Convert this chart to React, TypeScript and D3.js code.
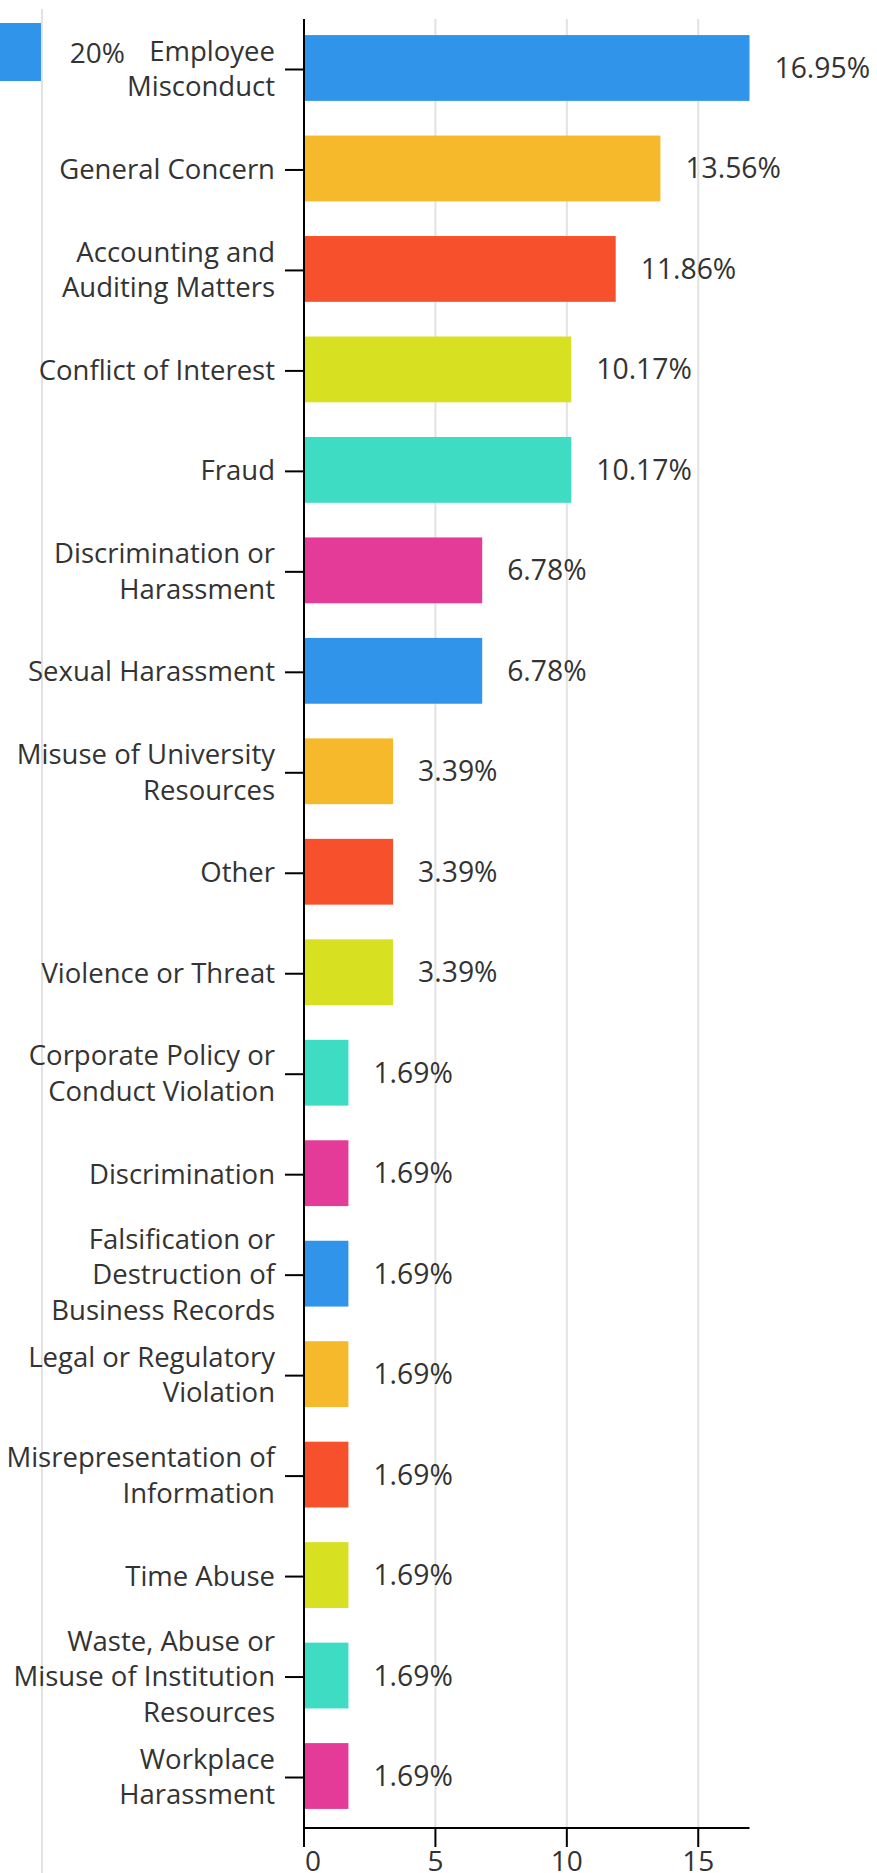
import React from "react";
import * as d3 from "d3";

const categories: string[][] = [
  ["Employee", "Misconduct"],
  ["General Concern"],
  ["Accounting and", "Auditing Matters"],
  ["Conflict of Interest"],
  ["Fraud"],
  ["Discrimination or", "Harassment"],
  ["Sexual Harassment"],
  ["Misuse of University", "Resources"],
  ["Other"],
  ["Violence or Threat"],
  ["Corporate Policy or", "Conduct Violation"],
  ["Discrimination"],
  ["Falsification or", "Destruction of", "Business Records"],
  ["Legal or Regulatory", "Violation"],
  ["Misrepresentation of", "Information"],
  ["Time Abuse"],
  ["Waste, Abuse or", "Misuse of Institution", "Resources"],
  ["Workplace", "Harassment"],
];

const values: number[] = [
  16.95, 13.56, 11.86, 10.17, 10.17, 6.78, 6.78, 3.39, 3.39, 3.39, 1.69, 1.69,
  1.69, 1.69, 1.69, 1.69, 1.69, 1.69,
];

const palette: string[] = ["#2F94EA", "#F6B92B", "#F6512C", "#D7E021", "#3DDCC3", "#E43A98"];

const xTicks: number[] = [0, 5, 10, 15];
const legendLabel = "20%";

const W = 877;
const H = 1873;
const FONT = "'Open Sans', sans-serif";
const TEXT = "#333333";

export default function App() {
  const x0 = 304;
  const x = d3.scaleLinear().domain([0, 16.95]).range([x0, 749.5]);
  const ids = categories.map((_, i) => String(i));
  const y = d3
    .scaleBand<string>()
    .domain(ids)
    .range([17.5, 1826.5])
    .paddingInner(0.345)
    .paddingOuter(0.175);
  const axisTop = 19;
  const axisBottom = 1828;
  const lineH = 35.5;

  return (
    <div style={{ position: "absolute", left: 0, top: 0 }}>
      <svg width={W} height={H} style={{ display: "block" }} fontFamily={FONT}>
        {/* legend remnant */}
        <line x1={42} x2={42} y1={9} y2={H} stroke="#e2e2e2" strokeWidth={2} />
        <rect x={-10} y={23} width={51} height={58} fill={palette[0]} />
        <text x={125} y={63} textAnchor="end" fontSize={28} fill={TEXT}>
          {legendLabel}
        </text>

        {/* gridlines */}
        {xTicks
          .filter((t) => t > 0)
          .map((t) => (
            <line
              key={"g" + t}
              x1={x(t)}
              x2={x(t)}
              y1={axisTop}
              y2={axisBottom}
              stroke="#e2e2e2"
              strokeWidth={2}
            />
          ))}

        {/* bars */}
        {values.map((v, i) => (
          <rect
            key={"b" + i}
            x={x0 + 1}
            y={y(ids[i])!}
            width={x(v) - x0 - 1}
            height={y.bandwidth()}
            fill={palette[i % palette.length]}
          />
        ))}

        {/* value labels */}
        {values.map((v, i) => {
          const cy = y(ids[i])! + y.bandwidth() / 2;
          return (
            <text
              key={"v" + i}
              x={x(v) + 25}
              y={cy + 10}
              fontSize={28.3}
              fill={TEXT}
            >
              {v.toFixed(2) + "%"}
            </text>
          );
        })}

        {/* y axis */}
        <line x1={x0} x2={x0} y1={axisTop} y2={axisBottom + 1} stroke="#000" strokeWidth={2} />
        {categories.map((lines, i) => {
          const cy = y(ids[i])! + y.bandwidth() / 2 + 1.5;
          const n = lines.length;
          return (
            <g key={"c" + i}>
              <line x1={285} x2={x0} y1={cy} y2={cy} stroke="#000" strokeWidth={2} />
              <text textAnchor="end" fontSize={27.5} fill={TEXT}>
                {lines.map((l, j) => (
                  <tspan key={j} x={275} y={cy + 9 + lineH * (j - (n - 1) / 2)}>
                    {l}
                  </tspan>
                ))}
              </text>
            </g>
          );
        })}

        {/* x axis */}
        <line x1={x0 - 1} x2={749.5} y1={axisBottom} y2={axisBottom} stroke="#000" strokeWidth={2} />
        {xTicks.map((t, i) => (
          <g key={"t" + t}>
            <line x1={x(t)} x2={x(t)} y1={axisBottom} y2={axisBottom + 19} stroke="#000" strokeWidth={2} />
            <text
              x={i === 0 ? x(t) + 1 : x(t)}
              y={axisBottom + 43}
              textAnchor={i === 0 ? "start" : "middle"}
              fontSize={28}
              fill={TEXT}
            >
              {t}
            </text>
          </g>
        ))}
      </svg>
    </div>
  );
}
